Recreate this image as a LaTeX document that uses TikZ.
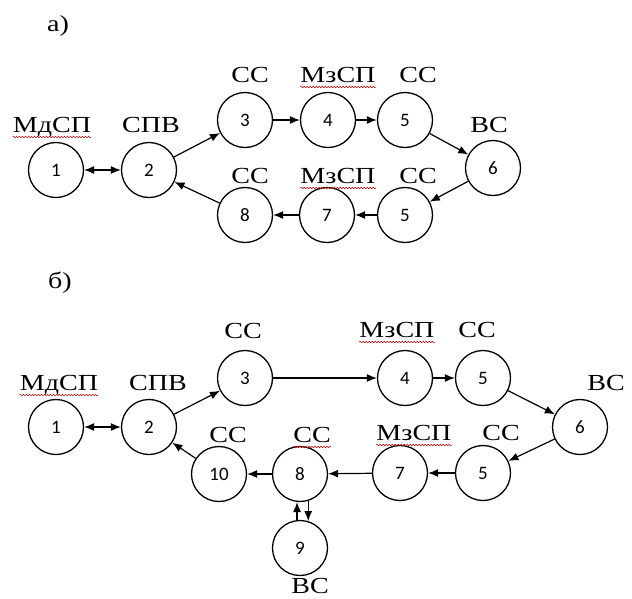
\documentclass[tikz,border=0pt]{standalone}
\usepackage{fontspec}
\setmainfont{Liberation Serif}
\newfontfamily\digitfont{Carlito}
\usetikzlibrary{arrows.meta,decorations.pathmorphing}

\begin{document}
\begin{tikzpicture}[x=1pt,y=-1pt,>={Latex[length=10pt,width=8pt]},
    st/.style={draw,circle,minimum size=55pt,inner sep=0pt,line width=1.3pt,
      font=\digitfont\fontsize{19}{21}\selectfont},
    lb/.style={anchor=base,inner sep=0pt,font=\fontsize{23}{25}\selectfont,
      xscale=1.22,transform shape},
    link/.style={->,line width=1.2pt},
    squig/.style={red!75!black,line width=0.5pt,decorate,
      decoration={snake,amplitude=0.8pt,segment length=3pt}}]
  \useasboundingbox (0,0) rectangle (632,598);
  % а)
  \node[lb] (ta) at (58,31) {а)};
  \node[st] (a1) at (56,170) {1};
  \node[st] (a2) at (149,170) {2};
  \node[st] (a3) at (245,120) {3};
  \node[st] (a4) at (328,120) {4};
  \node[st] (a5u) at (405,120) {5};
  \node[st] (a6) at (493,168) {6};
  \node[st] (a5l) at (405,215) {5};
  \node[st] (a7) at (327,215) {7};
  \node[st] (a8) at (245,215) {8};
  \node[lb] (a1t) at (52,132) {МдСП};
  \node[lb] (a2t) at (151,132) {СПВ};
  \node[lb] (a3t) at (250,82) {СС};
  \node[lb] (a4t) at (338,82) {МзСП};
  \node[lb] (a5ut) at (418,82) {СС};
  \node[lb] (a6t) at (489,132) {ВС};
  \node[lb] (a8t) at (250,183) {СС};
  \node[lb] (a7t) at (338,183) {МзСП};
  \node[lb] (a5lt) at (418,183) {СС};
  \draw [link,<->] (a1) -- (a2);
  \draw [link] (a2) -- (a3);
  \draw [link] (a3) -- (a4);
  \draw [link] (a4) -- (a5u);
  \draw [link] (a5u) -- (a6);
  \draw [link] (a6) -- (a5l);
  \draw [link] (a5l) -- (a7);
  \draw [link] (a7) -- (a8);
  \draw [link] (a8) -- (a2);
  \draw [squig] ([yshift=-5pt]a1t.base west) -- ([yshift=-5pt]a1t.base east);
  \draw [squig] ([yshift=-5pt]a4t.base west) -- ([yshift=-5pt]a4t.base east);
  \draw [squig] ([yshift=-5pt]a7t.base west) -- ([yshift=-5pt]a7t.base east);
  % б)
  \node[lb] (tb) at (60,288) {б)};
  \node[st] (b1) at (56,427) {1};
  \node[st] (b2) at (149,427) {2};
  \node[st] (b3) at (245,378) {3};
  \node[st] (b4) at (405,378) {4};
  \node[st] (b5u) at (483,378) {5};
  \node[st] (b6) at (580,427) {6};
  \node[st] (b5l) at (483,473) {5};
  \node[st] (b7) at (400,473) {7};
  \node[st] (b8) at (300,474) {8};
  \node[st] (b10) at (219,474) {10};
  \node[st] (b9) at (300,548) {9};
  \node[lb] (b1t) at (59,390) {МдСП};
  \node[lb] (b2t) at (158,390) {СПВ};
  \node[lb] (b3t) at (243,338) {СС};
  \node[lb] (b4t) at (397,337) {МзСП};
  \node[lb] (b5ut) at (477,337) {СС};
  \node[lb] (b6t) at (606,390) {ВС};
  \node[lb] (b10t) at (228,442) {СС};
  \node[lb] (b8t) at (312,442) {СС};
  \node[lb] (b7t) at (414,440) {МзСП};
  \node[lb] (b5lt) at (501,440) {СС};
  \node[lb] (b9t) at (310,593) {ВС};
  \draw [link,<->] (b1) -- (b2);
  \draw [link] (b2) -- (b3);
  \draw [link] (b3) -- (b4);
  \draw [link] (b4) -- (b5u);
  \draw [link] (b5u) -- (b6);
  \draw [link] (b6) -- (b5l);
  \draw [link] (b5l) -- (b7);
  \draw [link] (b7) -- (b8);
  \draw [link] (b8) -- (b10);
  \draw [link] (b10) -- (b2);
  \draw [link] (b9.96) -- (b8.264);
  \draw [link] (b8.287) -- (b9.73);
  \draw [squig] ([yshift=-5pt]b1t.base west) -- ([yshift=-5pt]b1t.base east);
  \draw [squig] ([yshift=-5pt]b4t.base west) -- ([yshift=-5pt]b4t.base east);
  \draw [squig] ([yshift=-5pt]b7t.base west) -- ([yshift=-5pt]b7t.base east);
  \draw [squig] ([yshift=-5pt]b8t.base west) -- ([yshift=-5pt]b8t.base east);
\end{tikzpicture}
\end{document}
